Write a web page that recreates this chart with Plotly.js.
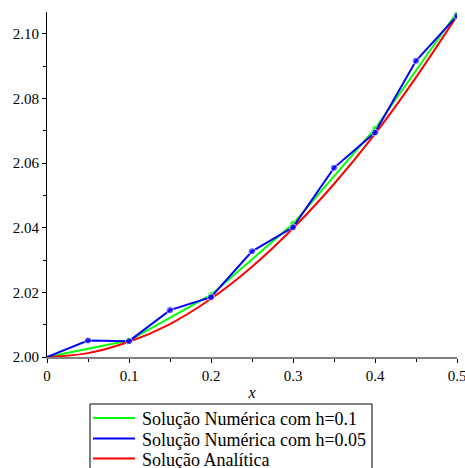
<!DOCTYPE html>
<html>
<head>
<meta charset="utf-8">
<script src="https://cdn.plot.ly/plotly-3.0.1.min.js"></script>
<style>
html,body{margin:0;padding:0;background:#fff;}
#chart{width:465px;height:468px;}
#chart text{font-family:'Liberation Serif',serif !important;}
</style>
</head>
<body>
<div id="chart"></div>
<script>
// x values
const xCoarse = [0, 0.1, 0.2, 0.3, 0.4, 0.5];
const xFine = [0, 0.05, 0.1, 0.15, 0.2, 0.25, 0.3, 0.35, 0.4, 0.45, 0.5];
// Numerical solution h=0.1
const yCoarse = [2.000, 2.0051, 2.0192, 2.0412, 2.0706, 2.1066];
// Numerical solution h=0.05
const yFine = [2.000, 2.0051, 2.0049, 2.0145, 2.0185, 2.0327, 2.0401, 2.0585, 2.0694, 2.0916, 2.1055];
// Analytical solution (read at x = 0, 0.05, ... 0.5)
const yExact = [2.000, 2.0012, 2.0047, 2.0102, 2.0180, 2.0279, 2.0398, 2.0535, 2.0690, 2.0865, 2.1055];
// tick values / labels
const xTicks = [0, 0.1, 0.2, 0.3, 0.4, 0.5];
const xTickText = ['0', '0.1', '0.2', '0.3', '0.4', '0.5'];
const yTicks = [2.00, 2.02, 2.04, 2.06, 2.08, 2.10];
const yTickText = ['2.00', '2.02', '2.04', '2.06', '2.08', '2.10'];

const names = ['Solução Numérica com h=0.1', 'Solução Numérica com h=0.05', 'Solução Analítica'];
const colors = ['#00ff00', '#0000ff', '#ff0000'];

const FAM = 'Liberation Serif';

function markerSizes(xs) { return xs.map(v => v === 0 ? 0 : 7); }

const traces = [
  {x: xCoarse, y: yCoarse, mode: 'lines+markers', name: names[0],
   line: {color: colors[0], width: 2}, marker: {color: colors[0], size: markerSizes(xCoarse)}},
  {x: xFine, y: yExact, mode: 'lines', name: names[2],
   line: {color: colors[2], width: 2, shape: 'spline'}},
  {x: xFine, y: yFine, mode: 'lines+markers', name: names[1],
   line: {color: colors[1], width: 2}, marker: {color: colors[1], size: markerSizes(xFine)}}
];

// Manual legend (box, line samples, labels) in paper coordinates
const plotL = 47, plotW = 410, plotT = 12, plotH = 345;
const px = X => (X - plotL) / plotW;
const py = Y => (plotT + plotH - Y) / plotH;
const rowY = [418, 438.5, 458.5];

const shapes = [
  {type: 'rect', xref: 'paper', yref: 'paper', x0: px(90), x1: px(372), y0: py(404), y1: py(480),
   line: {color: '#000', width: 1}, fillcolor: 'rgba(0,0,0,0)', layer: 'above'}
];
const annotations = [];
names.forEach((n, i) => {
  shapes.push({type: 'line', xref: 'paper', yref: 'paper', x0: px(93), x1: px(135), y0: py(rowY[i]), y1: py(rowY[i]),
    line: {color: colors[i], width: 2}, layer: 'above'});
  annotations.push({xref: 'paper', yref: 'paper', x: px(140), y: py(rowY[i] + 1), xanchor: 'left', yanchor: 'middle',
    text: n, showarrow: false, font: {family: FAM, size: 18, color: '#000'}});
});

const layout = {
  width: 465, height: 468,
  margin: {l: plotL, r: 465 - plotL - plotW, t: plotT, b: 468 - plotT - plotH, autoexpand: false},
  paper_bgcolor: '#fff', plot_bgcolor: '#fff',
  font: {family: FAM, size: 15, color: '#000'},
  showlegend: false,
  shapes: shapes,
  annotations: annotations,
  xaxis: {
    range: [0, 0.5], tickmode: 'array', tickvals: xTicks, ticktext: xTickText,
    showgrid: false, zeroline: false, ticklabeloverflow: 'allow',
    showline: true, linecolor: '#808080', linewidth: 2,
    ticks: 'outside', ticklen: 4, tickcolor: '#000', tickwidth: 1,
    minor: {dtick: 0.05, tick0: 0, ticks: 'outside', ticklen: 3, tickcolor: '#000', showgrid: false},
    tickfont: {family: FAM, size: 15, color: '#000'},
    title: {text: '<i>x</i>', font: {family: FAM, size: 16, color: '#000'}, standoff: 4}
  },
  yaxis: {
    range: [2.0, 2.1067], tickmode: 'array', tickvals: yTicks, ticktext: yTickText,
    showgrid: false, zeroline: false, ticklabeloverflow: 'allow',
    showline: true, linecolor: '#000', linewidth: 1,
    ticks: 'outside', ticklen: 4, tickcolor: '#000', tickwidth: 1,
    minor: {dtick: 0.01, tick0: 2.0, ticks: 'outside', ticklen: 3, tickcolor: '#000', showgrid: false},
    tickfont: {family: FAM, size: 15, color: '#000'}
  }
};

Plotly.newPlot('chart', traces, layout, {displayModeBar: false, staticPlot: true});
</script>
</body>
</html>
